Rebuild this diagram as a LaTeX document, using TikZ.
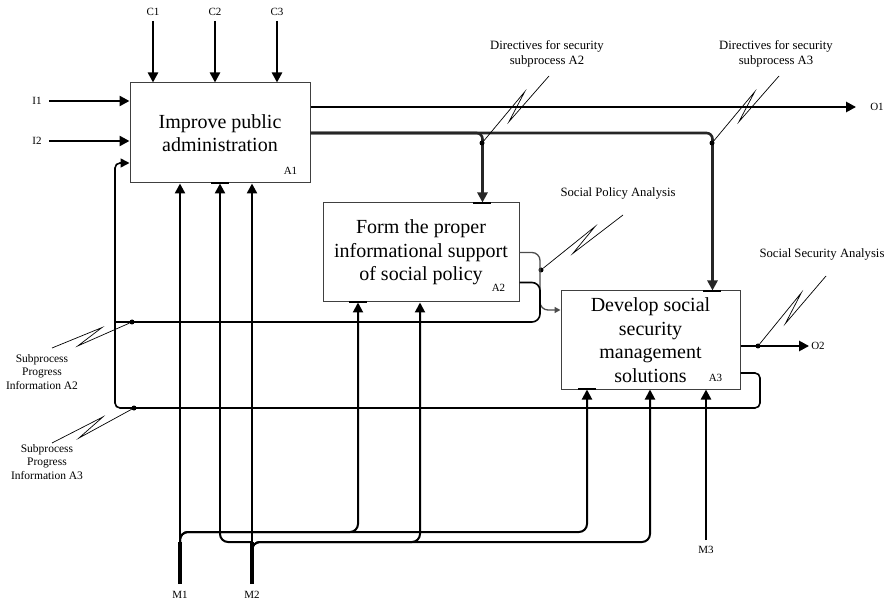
\documentclass[tikz,border=0pt]{standalone}
\usepackage{fontspec}
\setmainfont{Liberation Serif}
\usetikzlibrary{arrows.meta, calc, positioning}

\newcommand{\squig}[2]{\draw[zig] (#1) -- ($(#1)!0.64!(#2)!4pt!90:(#2)$) -- ($(#1)!0.3!(#2)!6pt!-90:(#2)$) -- (#2);}

\begin{document}
\begin{tikzpicture}[x=1pt, y=-1pt,
        box/.style={draw=black!75, line width=1pt, align=center, inner sep=0pt, font=\fontsize{20}{23.5}\selectfont},
        tag/.style={font=\fontsize{11}{13}\selectfont, inner sep=2pt},
        note/.style={font=\fontsize{12.7}{15.5}\selectfont, align=center, inner sep=0pt},
        info/.style={font=\fontsize{11.5}{13.5}\selectfont, align=center, inner sep=0pt},
        arr/.style={line width=2.4pt, -{Triangle[length=10pt,width=10pt]}},
        ctl/.style={line width=2.6pt, draw=black!85, rounded corners=6pt, -{Triangle[length=10pt,width=10pt]}},
        feed/.style={line width=1.6pt, rounded corners=8pt},
        mech/.style={line width=2pt, rounded corners=8pt, -{Triangle[length=10pt,width=10pt]}},
        tunnel/.style={line width=2.2pt},
        zig/.style={line width=0.7pt},
        dot/.style={circle, fill, inner sep=0pt, minimum size=5pt}]
        \useasboundingbox (0,0) rectangle (887,604);

        % activities
        \node[box, minimum width=180pt, minimum height=100pt] (A1) at (220,133) {Improve public\\administration};
        \node[box, minimum width=196pt, minimum height=99pt] (A2) at (421,252.5) {Form the proper\\informational support\\of social policy};
        \node[box, minimum width=179pt, minimum height=98pt] (A3) at (650.5,340) {Develop social\\security\\management\\solutions};
        \node[tag] (tA1) at ([shift={(-20,-13)}]A1.south east) {A1};
        \node[tag] (tA2) at ([shift={(-21,-15)}]A2.south east) {A2};
        \node[tag] (tA3) at ([shift={(-25,-12)}]A3.south east) {A3};

        % controls and inputs of A1
        \node[tag] (C1) at (153,12) {C1};
        \node[tag] (C2) at (215,12) {C2};
        \node[tag] (C3) at (277,12) {C3};
        \foreach \c in {C1,C2,C3}
            \draw[arr, shorten <=3pt] (\c) -- (\c |- A1.north);
        \node[tag] (I1) at (37,101) {I1};
        \node[tag] (I2) at (37,141) {I2};
        \foreach \i in {I1,I2}
            \draw[arr, shorten <=5pt] (\i) -- (\i -| A1.west);

        % outputs of A1
        \node[tag] (O1) at (877,107) {O1};
        \draw[arr, shorten >=12pt] (A1.east |- O1) -- (O1);
        \coordinate (A2top) at ([xshift=-37pt]A2.north east);
        \coordinate (A3top) at ([xshift=-28pt]A3.north east);
        \draw[ctl] (A1.east) -| (A2top);
        \draw[ctl] (A1.east) -| (A3top);
        \node[dot] (pD2) at (482,143) {};
        \node[dot] (pD3) at (712,143) {};
        \node[note] (dA2) at (547,54) {Directives for security\\subprocess A2};
        \node[note] (dA3) at (776,54) {Directives for security\\subprocess A3};
        \coordinate (sD2) at (549,76);
        \coordinate (sD3) at (779,76);
        \squig{sD2}{pD2}
        \squig{sD3}{pD3}

        % outputs of A2
        \coordinate (bend2) at (540,0);
        \coordinate (loopx) at (115,0);
        \coordinate (A2o) at ([yshift=-30pt]A2.east);
        \coordinate (A3i) at ([yshift=30pt]A3.west);
        \node[dot] (pSP) at (541,270) {};
        \node[dot] (pS2) at (132,322) {};
        \draw[feed, line width=1.3pt, draw=black!70, -{Triangle[length=6pt,width=6pt]}] (A2.east) -| (bend2 |- A3i) -- (A3i);
        \draw[feed] (A2o) -| (bend2 |- pS2) -- (pS2 -| loopx);
        \node[note] (spa) at (618,193) {Social Policy Analysis};
        \coordinate (sSP) at (623,215);
        \squig{sSP}{pSP}

        % outputs of A3
        \node[tag] (O2) at (818,346) {O2};
        \draw[arr] (A3.east |- O2) -- (O2);
        \node[dot] (pSS) at (758,346) {};
        \node[note] (ssa) at (822,254) {Social Security Analysis};
        \coordinate (sSS) at (826,276);
        \squig{sSS}{pSS}
        \coordinate (bend3) at (760,0);
        \coordinate (A3o) at ([yshift=-33pt]A3.east);
        \coordinate (A1i) at ([yshift=-30pt]A1.west);
        \node[dot] (pS3) at (134,408) {};
        \draw[feed, rounded corners=5pt, -{Triangle[length=9pt,width=9pt]}] (A3o) -| (bend3 |- pS3) -| (loopx |- A1i) -- (A1i);

        % feedback labels
        \node[info] (sub2) at (42,372) {Subprocess\\Progress\\Information A2};
        \node[info] (sub3) at (47,462) {Subprocess\\Progress\\Information A3};
        \coordinate (sS2) at (52,348);
        \coordinate (sS3) at (52,443);
        \squig{sS2}{pS2}
        \squig{sS3}{pS3}

        % mechanisms
        \node[tag] (M1) at (180,595) {M1};
        \node[tag] (M2) at (252,595) {M2};
        \node[tag] (M3) at (706,550) {M3};
        \coordinate (br0) at (0,556);
        \coordinate (br1) at (0,532);
        \coordinate (br2) at (0,542);
        \coordinate (A2m1) at (358,0);
        \coordinate (A2m2) at (420,0);
        \coordinate (A3m1) at (587,0);
        \coordinate (A3m2) at (650,0);
        \draw[arr, shorten <=5pt] (M1) -- (M1 |- A1.south);
        \draw[arr, shorten <=5pt] (M2) -- (M2 |- A1.south);
        \draw[arr, shorten <=4pt] (M3) -- (M3 |- A3.south);
        \draw[line width=3.6pt, shorten <=5pt] (M1) -- (M1 |- br2);
        \draw[line width=3.6pt, shorten <=5pt] (M2) -- (M2 |- br2);
        \draw[mech] (M1 |- br0) |- (A3m1 |- br1) -- (A3m1 |- A3.south);
        \draw[mech] (M1 |- br0) |- (A2m1 |- br1) -- (A2m1 |- A2.south);
        \draw[mech] (M2 |- br0) |- (A3m2 |- br2) -- (A3m2 |- A3.south);
        \draw[mech] (M2 |- br0) |- (A2m2 |- br2) -- (A2m2 |- A2.south);
        \draw[arr] (A1.south |- br1) -- (A1.south);
        \draw[feed, line width=2pt] (A1.south |- br1) |- (M2 |- br2);

        % tunnelled ends
        \foreach \x/\y in {220/183, 482/203, 358/302, 712/291, 587/389}
            \draw[tunnel] (\x-9,\y) -- (\x+9,\y);
\end{tikzpicture}
\end{document}
